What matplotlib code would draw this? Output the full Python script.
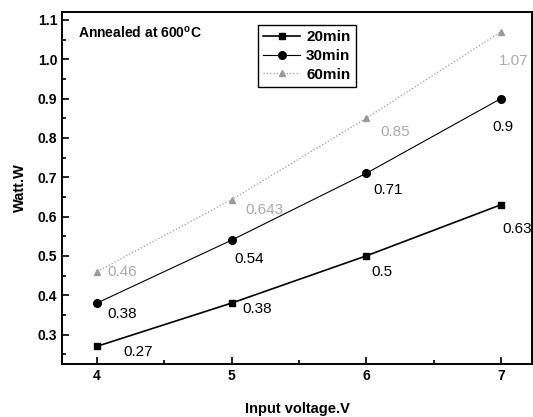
import matplotlib
matplotlib.use('Agg')
from matplotlib import pyplot as plt
from matplotlib.ticker import MultipleLocator

plt.rcParams['font.family'] = ['Liberation Sans', 'DejaVu Sans']
plt.rcParams['mathtext.fontset'] = 'custom'
plt.rcParams['mathtext.rm'] = 'Liberation Sans:bold'

voltage = [4, 5, 6, 7]
w20 = [0.27, 0.38, 0.5, 0.63]
w30 = [0.38, 0.54, 0.71, 0.9]
w60 = [0.46, 0.643, 0.85, 1.07]
lab20 = ['0.27', '0.38', '0.5', '0.63']
lab30 = ['0.38', '0.54', '0.71', '0.9']
lab60 = ['0.46', '0.643', '0.85', '1.07']

# label offsets in pixels (dx right, dy down)
off20 = [(26, 6), (11, 6), (5, 16), (1, 24)]
off30 = [(10, 11), (3, 19), (7, 17), (-9, 28)]
off60 = [(10, 0), (14, 10), (14, 14), (-2, 29)]

gray = '#9a9a9a'

fig = plt.figure(figsize=(5.33, 4.17), dpi=100)
ax = fig.add_axes([62 / 533, 53 / 417, 470 / 533, 352 / 417])

ax.plot(voltage, w20, c='black', lw=1.2, marker='s', ms=5, label='20min')
ax.plot(voltage, w30, c='black', lw=0.8, marker='o', ms=5.5, label='30min')
ax.plot(voltage, w60, c=gray, lw=0.9, ls=':', marker='^', ms=4.5, label='60min')

for vals, labs, offs, col in [(w20, lab20, off20, 'black'),
                              (w30, lab30, off30, 'black'),
                              (w60, lab60, off60, '#aaaaaa')]:
    for x, y, t, (dx, dy) in zip(voltage, vals, labs, offs):
        ax.annotate(t, (x, y), xytext=(dx * 0.72, -dy * 0.72),
                    textcoords='offset points', ha='left', va='center',
                    fontsize=11, color=col)

ax.text(0.035, 0.965, r'Annealed at 600$^{\mathregular{o}}$C', transform=ax.transAxes,
        ha='left', va='top', fontsize=10, fontweight='bold')

ax.set_xlim(3.74, 7.23)
ax.set_ylim(0.225, 1.12)
ax.xaxis.set_major_locator(MultipleLocator(1))
ax.xaxis.set_minor_locator(MultipleLocator(0.5))
ax.yaxis.set_major_locator(MultipleLocator(0.1))
ax.yaxis.set_minor_locator(MultipleLocator(0.05))
ax.tick_params(which='both', direction='in', width=1.2)
ax.tick_params(which='major', length=5, labelsize=10)
ax.tick_params(which='minor', length=3)
for lbl in ax.get_xticklabels() + ax.get_yticklabels():
    lbl.set_fontweight('bold')
for s in ax.spines.values():
    s.set_linewidth(1.4)

ax.set_xlabel('Input voltage.V', fontsize=10.5, fontweight='bold', labelpad=14)
ax.set_ylabel('Watt.W', fontsize=10.5, fontweight='bold', labelpad=8)

leg = ax.legend(loc='upper left', bbox_to_anchor=(0.417, 0.963), borderaxespad=0,
                fancybox=False, edgecolor='black', framealpha=1,
                prop={'weight': 'bold', 'size': 11}, handlelength=2.4,
                labelspacing=0.3, borderpad=0.35, handletextpad=0.4)
leg.get_frame().set_linewidth(1.0)

fig.savefig('out.png', dpi=100)
